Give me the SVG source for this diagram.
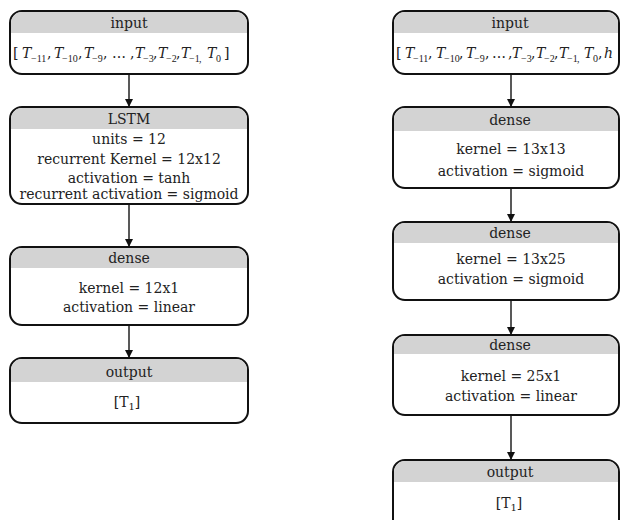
<svg xmlns="http://www.w3.org/2000/svg" width="620" height="520" viewBox="0 0 620 520">
<defs>
<style>
.box{fill:#fff;stroke:#111;stroke-width:2}
.hd{fill:#d3d3d3;stroke:none}
.t{font-family:"DejaVu Serif","Liberation Serif",serif;font-size:14px;fill:#222;text-anchor:middle}
.m{font-family:"DejaVu Serif","Liberation Serif",serif;font-size:14px;fill:#222}
.i{font-style:italic}
.s{font-family:"Liberation Serif",serif;font-size:10px;fill:#222}
.c{stroke:#222;stroke-width:1.5;fill:none}
</style>
<marker id="ah" markerWidth="8" markerHeight="8" refX="8" refY="4" orient="auto" markerUnits="userSpaceOnUse">
<path d="M0,0 L8,4 L0,8 Z" fill="#111"/>
</marker>
</defs>

<g id="connectors">
<line class="c" x1="129" y1="74" x2="129" y2="107" marker-end="url(#ah)"/>
<line class="c" x1="129" y1="204" x2="129" y2="247" marker-end="url(#ah)"/>
<line class="c" x1="129" y1="325" x2="129" y2="358" marker-end="url(#ah)"/>
<line class="c" x1="511" y1="74" x2="511" y2="107" marker-end="url(#ah)"/>
<line class="c" x1="511" y1="188" x2="511" y2="222" marker-end="url(#ah)"/>
<line class="c" x1="511" y1="300" x2="511" y2="335" marker-end="url(#ah)"/>
<line class="c" x1="511" y1="415" x2="511" y2="460" marker-end="url(#ah)"/>
</g>

<g id="l-input">
<rect class="box" x="10" y="11" width="238" height="63" rx="12"/>
<path class="hd" d="M11,33 V23 A11,11 0 0 1 22,12 H236 A11,11 0 0 1 247,23 V33 Z"/>
<text class="t" x="129" y="28">input</text>
<text class="m" x="13" y="58">[</text>
<text class="m i" x="22" y="58">T</text><text class="s" x="31" y="62">−11</text>
<text class="m" x="47" y="58">,</text>
<text class="m i" x="54" y="58">T</text><text class="s" x="62" y="62">−10</text>
<text class="m" x="78" y="58">,</text>
<text class="m i" x="84" y="58">T</text><text class="s" x="92" y="62">−9</text>
<text class="m" x="103" y="58">,</text>
<text class="m" x="112" y="58">…</text>
<text class="m" x="130" y="58">,</text>
<text class="m i" x="135" y="58">T</text><text class="s" x="143" y="62">−3</text>
<text class="m" x="153" y="58">,</text>
<text class="m i" x="158" y="58">T</text><text class="s" x="166" y="62">−2</text>
<text class="m" x="176" y="58">,</text>
<text class="m i" x="181" y="58">T</text><text class="s" x="189" y="62">−1</text>
<text class="s" x="199" y="62">,</text>
<text class="m i" x="207" y="58">T</text><text class="s" x="216" y="62">0</text>
<text class="m" x="224" y="58">]</text>
</g>

<g id="l-lstm">
<rect class="box" x="10" y="107" width="238" height="97" rx="12"/>
<path class="hd" d="M11,129 V119 A11,11 0 0 1 22,108 H236 A11,11 0 0 1 247,119 V129 Z"/>
<text class="t" x="129" y="124">LSTM</text>
<text class="t" x="129" y="144">units = 12</text>
<text class="t" x="129" y="164">recurrent Kernel = 12x12</text>
<text class="t" x="129" y="183">activation = tanh</text>
<text class="t" x="129" y="199">recurrent activation = sigmoid</text>
</g>

<g id="l-dense">
<rect class="box" x="10" y="247" width="238" height="78" rx="12"/>
<path class="hd" d="M11,268 V259 A11,11 0 0 1 22,248 H236 A11,11 0 0 1 247,259 V268 Z"/>
<text class="t" x="129" y="263">dense</text>
<text class="t" x="129" y="293">kernel = 12x1</text>
<text class="t" x="129" y="312">activation = linear</text>
</g>

<g id="l-output">
<rect class="box" x="10" y="358" width="238" height="65" rx="12"/>
<path class="hd" d="M11,382 V370 A11,11 0 0 1 22,359 H236 A11,11 0 0 1 247,370 V382 Z"/>
<text class="t" x="129" y="377">output</text>
<text class="t" x="127" y="407">[T<tspan dy="3" font-size="10">1</tspan><tspan dy="-3">]</tspan></text>
</g>

<g id="r-input">
<rect class="box" x="393" y="11" width="226" height="63" rx="12"/>
<path class="hd" d="M394,33 V23 A11,11 0 0 1 405,12 H607 A11,11 0 0 1 618,23 V33 Z"/>
<text class="t" x="510" y="28">input</text>
<text class="m" x="396" y="58">[</text>
<text class="m i" x="405" y="58">T</text><text class="s" x="413" y="62">−11</text>
<text class="m" x="428" y="58">,</text>
<text class="m i" x="436" y="58">T</text><text class="s" x="444" y="62">−10</text>
<text class="m" x="459" y="58">,</text>
<text class="m i" x="466" y="58">T</text><text class="s" x="474" y="62">−9</text>
<text class="m" x="485" y="58">,</text>
<text class="m" x="492" y="58">…</text>
<text class="m" x="508" y="58">,</text>
<text class="m i" x="512" y="58">T</text><text class="s" x="521" y="62">−3</text>
<text class="m" x="531" y="58">,</text>
<text class="m i" x="536" y="58">T</text><text class="s" x="544" y="62">−2</text>
<text class="m" x="554" y="58">,</text>
<text class="m i" x="559" y="58">T</text><text class="s" x="567" y="62">−1</text>
<text class="s" x="577" y="62">,</text>
<text class="m i" x="584" y="58">T</text><text class="s" x="593" y="62">0</text>
<text class="m" x="598" y="58">,</text>
<text class="m i" x="604" y="58">h</text>
</g>

<g id="r-dense1">
<rect class="box" x="393" y="107" width="226" height="81" rx="12"/>
<path class="hd" d="M394,131 V119 A11,11 0 0 1 405,108 H607 A11,11 0 0 1 618,119 V131 Z"/>
<text class="t" x="510" y="125">dense</text>
<text class="t" x="511" y="154">kernel = 13x13</text>
<text class="t" x="511" y="176">activation = sigmoid</text>
</g>

<g id="r-dense2">
<rect class="box" x="393" y="222" width="226" height="78" rx="12"/>
<path class="hd" d="M394,243 V234 A11,11 0 0 1 405,223 H607 A11,11 0 0 1 618,234 V243 Z"/>
<text class="t" x="510" y="238">dense</text>
<text class="t" x="511" y="264">kernel = 13x25</text>
<text class="t" x="511" y="284">activation = sigmoid</text>
</g>

<g id="r-dense3">
<rect class="box" x="393" y="335" width="226" height="80" rx="12"/>
<path class="hd" d="M394,354 V347 A11,11 0 0 1 405,336 H607 A11,11 0 0 1 618,347 V354 Z"/>
<text class="t" x="510" y="350">dense</text>
<text class="t" x="511" y="381">kernel = 25x1</text>
<text class="t" x="511" y="401">activation = linear</text>
</g>

<g id="r-output">
<rect class="box" x="393" y="460" width="226" height="72" rx="12"/>
<path class="hd" d="M394,482 V472 A11,11 0 0 1 405,461 H607 A11,11 0 0 1 618,472 V482 Z"/>
<text class="t" x="510" y="477">output</text>
<text class="t" x="509" y="508">[T<tspan dy="3" font-size="10">1</tspan><tspan dy="-3">]</tspan></text>
</g>
</svg>
